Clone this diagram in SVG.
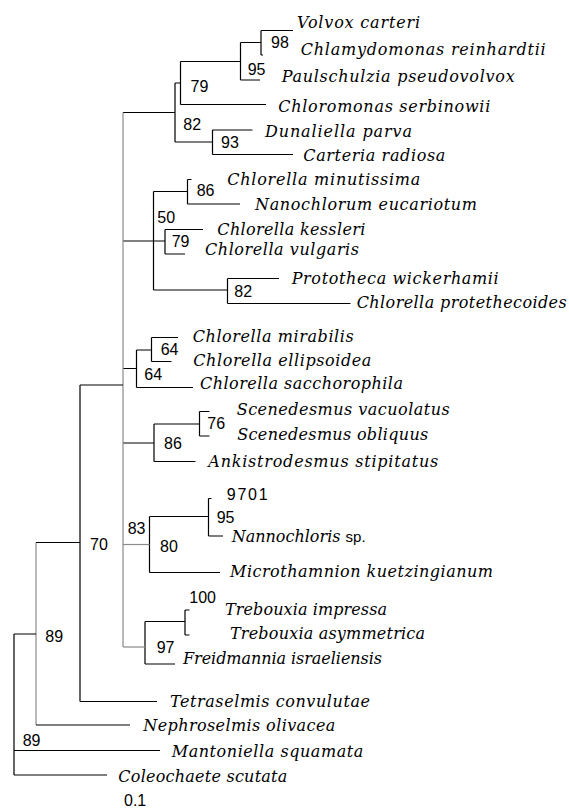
<svg xmlns="http://www.w3.org/2000/svg" width="569" height="808" viewBox="0 0 569 808">
<style>
.t{font-family:"DejaVu Serif","Liberation Serif",serif;font-style:italic;font-size:16px;fill:#000}
.n{font-family:"Liberation Sans",Arial,sans-serif;font-size:16px;fill:#000}
.s{font-family:"Liberation Sans",Arial,sans-serif;font-style:normal;font-size:15px}
#connectors path{stroke:#000;stroke-width:1.2;fill:none}
#connectors path.g{stroke:#8a8a8a}
</style>
<rect width="569" height="808" fill="#fff"/>
<g id="connectors">
<path d="M261 30.5V55 M261 30.5H293 M261 55H263"/>
<path d="M240.5 42.5V80 M240.5 42.5H261 M240.5 80H260"/>
<path d="M180.5 61.5V104.5 M180.5 61.5H240.5 M180.5 104.5H266"/>
<path d="M212.5 130V154.5 M212.5 130H252.5 M212.5 154.5H293"/>
<path d="M175 83V142 M175 83H180.5 M175 142H212.5 M123 112.5H175"/>
<path d="M187.5 179.5V204 M187.5 179.5H191.5 M187.5 204H240"/>
<path d="M165 229.5V254 M165 229.5H203 M165 254H185"/>
<path d="M227.5 278.5V303.5 M227.5 278.5H279 M227.5 303.5H350.5"/>
<path d="M153.5 191.5V290 M153.5 191.5H187.5 M153.5 241H165 M153.5 290H227.5 M123 241H153.5"/>
<path d="M151.5 337.5V361.5 M151.5 337.5H178 M151.5 361.5H171.5"/>
<path d="M136.5 350V387.5 M136.5 350H151.5 M136.5 387.5H193 M123 368.5H136.5"/>
<path d="M199.5 411.5V436 M199.5 411.5H209.5 M199.5 436H209.5"/>
<path d="M154 424V461.5 M154 424H199.5 M154 461.5H195.5 M123 443H154"/>
<path d="M208.5 498.5V536 M208.5 498.5H211.5 M208.5 536H223"/>
<path d="M149.5 516.5V572.5 M149.5 516.5H208.5 M149.5 572.5H220"/>
<path class="g" d="M123 544.5H149.5"/>
<path d="M185 610V635 M185 610H189.5 M185 635H189.5"/>
<path d="M145 621.5V664 M145 621.5H185 M145 664H175"/>
<path class="g" d="M123 647H145"/>
<path class="g" d="M123 112.5V647"/>
<path d="M80 385V701.5 M80 385H123 M80 701.5H157"/>
<path class="g" d="M36 542.5V725"/>
<path d="M36 542.5H80 M36 725H130"/>
<path d="M14 634V775 M14 634H36 M14 750.5H160 M14 775H107"/>
</g>
<g id="node-98"><text class="n" x="271" y="48.3">98</text></g>
<g id="node-95a"><text class="n" x="247.7" y="75">95</text></g>
<g id="node-79a"><text class="n" x="190.5" y="91.7">79</text></g>
<g id="node-93"><text class="n" x="221" y="148.3">93</text></g>
<g id="node-82a"><text class="n" x="183.3" y="130">82</text></g>
<g id="node-86a"><text class="n" x="196.7" y="196">86</text></g>
<g id="node-79b"><text class="n" x="171.7" y="246.7">79</text></g>
<g id="node-82b"><text class="n" x="234.3" y="297">82</text></g>
<g id="node-50"><text class="n" x="157.3" y="223.3">50</text></g>
<g id="node-64a"><text class="n" x="160.7" y="355">64</text></g>
<g id="node-64b"><text class="n" x="144.3" y="380">64</text></g>
<g id="node-76"><text class="n" x="207.3" y="429.3">76</text></g>
<g id="node-86b"><text class="n" x="164" y="449.3">86</text></g>
<g id="node-95b"><text class="n" x="216.7" y="522.7">95</text></g>
<g id="node-80"><text class="n" x="127.7" y="534.3">83</text><text class="n" x="160" y="551.7">80</text></g>
<g id="node-100"><text class="n" x="189.3" y="603">100</text></g>
<g id="node-97"><text class="n" x="156.7" y="653.3">97</text></g>
<g id="node-70"><text class="n" x="90" y="550">70</text></g>
<g id="node-89a"><text class="n" x="45.3" y="641.7">89</text></g>
<g id="node-89b"><text class="n" x="22.7" y="745.7">89</text></g>
<g id="scale"><text class="n" x="124" y="806">0.1</text></g>
<g id="tip-volvox"><text class="t" x="297" y="28" textLength="123">Volvox carteri</text></g>
<g id="tip-chlamydomonas"><text class="t" x="300.7" y="55" textLength="245">Chlamydomonas reinhardtii</text></g>
<g id="tip-paulschulzia"><text class="t" x="281.7" y="82" textLength="233">Paulschulzia pseudovolvox</text></g>
<g id="tip-chloromonas"><text class="t" x="278.3" y="111.5" textLength="212">Chloromonas serbinowii</text></g>
<g id="tip-dunaliella"><text class="t" x="265" y="137" textLength="147">Dunaliella parva</text></g>
<g id="tip-carteria"><text class="t" x="303.3" y="161" textLength="142">Carteria radiosa</text></g>
<g id="tip-minutissima"><text class="t" x="227.3" y="185" textLength="193">Chlorella minutissima</text></g>
<g id="tip-nanochlorum"><text class="t" x="255" y="210" textLength="222">Nanochlorum eucariotum</text></g>
<g id="tip-kessleri"><text class="t" x="217.3" y="234.5" textLength="148">Chlorella kessleri</text></g>
<g id="tip-vulgaris"><text class="t" x="205" y="255" textLength="154">Chlorella vulgaris</text></g>
<g id="tip-prototheca"><text class="t" x="291.7" y="283.5" textLength="207">Prototheca wickerhamii</text></g>
<g id="tip-protethecoides"><text class="t" x="356.7" y="308" textLength="210">Chlorella protethecoides</text></g>
<g id="tip-mirabilis"><text class="t" x="192.7" y="341.7" textLength="161">Chlorella mirabilis</text></g>
<g id="tip-ellipsoidea"><text class="t" x="193.3" y="365.5" textLength="178">Chlorella ellipsoidea</text></g>
<g id="tip-sacchorophila"><text class="t" x="200" y="388.5" textLength="203">Chlorella sacchorophila</text></g>
<g id="tip-vacuolatus"><text class="t" x="236.7" y="415" textLength="213">Scenedesmus vacuolatus</text></g>
<g id="tip-obliquus"><text class="t" x="237.3" y="440" textLength="191">Scenedesmus obliquus</text></g>
<g id="tip-ankistrodesmus"><text class="t" x="208.3" y="467" textLength="230">Ankistrodesmus stipitatus</text></g>
<g id="tip-9701"><text class="n" x="226.7" y="500" textLength="41">9701</text></g>
<g id="tip-nannochloris"><text class="t" x="231.7" y="542">Nannochloris <tspan class="s">sp.</tspan></text></g>
<g id="tip-microthamnion"><text class="t" x="230" y="576.5" textLength="263">Microthamnion kuetzingianum</text></g>
<g id="tip-impressa"><text class="t" x="225" y="615" textLength="162">Trebouxia impressa</text></g>
<g id="tip-asymmetrica"><text class="t" x="230" y="638.5" textLength="195">Trebouxia asymmetrica</text></g>
<g id="tip-freidmannia"><text class="t" x="183" y="663.5" textLength="199">Freidmannia israeliensis</text></g>
<g id="tip-tetraselmis"><text class="t" x="170" y="706.5" textLength="200">Tetraselmis convulutae</text></g>
<g id="tip-nephroselmis"><text class="t" x="143.3" y="731" textLength="192">Nephroselmis olivacea</text></g>
<g id="tip-mantoniella"><text class="t" x="171.7" y="757" textLength="191.6">Mantoniella squamata</text></g>
<g id="tip-coleochaete"><text class="t" x="118.3" y="782" textLength="169">Coleochaete scutata</text></g>
</svg>
